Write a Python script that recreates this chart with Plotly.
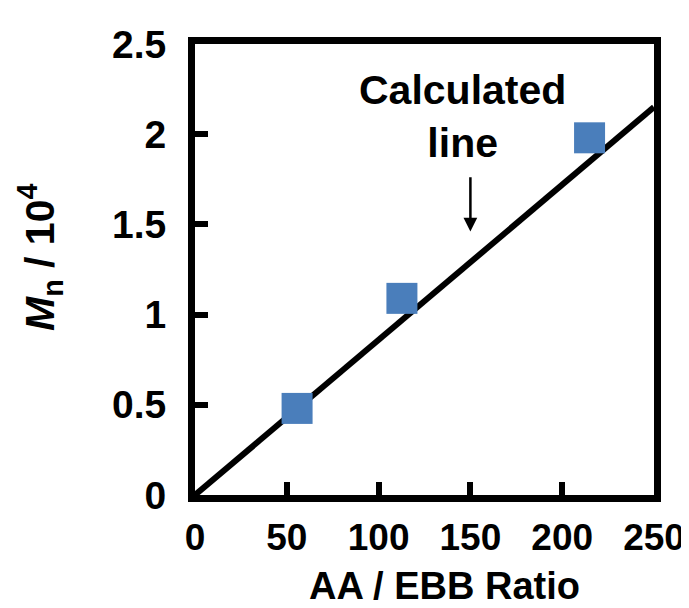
import plotly.graph_objects as go

# Data
ratio = [55.6, 112.7, 214.9]
mn = [0.48, 1.09, 1.98]
calc_x = [0, 250]
calc_y = [0, 2.15]
x_ticks = [0, 50, 100, 150, 200, 250]
y_ticks = [0, 0.5, 1, 1.5, 2, 2.5]
y_ticklabels = ["0", "0.5", "1", "1.5", "2", "2.5"]

FONT = "Liberation Sans, Arial, sans-serif"

L, R, T, B = 187, 40, 36, 121
W, H = 689, 608
PW, PH = W - L - R, H - T - B


def px(xp):
    return (xp - L) / PW


def py(yp):
    return (H - B - yp) / PH


fig = go.Figure()
fig.add_trace(go.Scatter(x=calc_x, y=calc_y, mode="lines",
                         line=dict(color="black", width=6), showlegend=False,
                         hoverinfo="skip"))
fig.add_trace(go.Scatter(x=ratio, y=mn, mode="markers",
                         marker=dict(symbol="square", size=31, color="#4A7EBB",
                                     line=dict(width=0)),
                         showlegend=False))

fig.add_annotation(x=150, y=1.46, ax=150, ay=1.77, xref="x", yref="y",
                   axref="x", ayref="y", text="", showarrow=True,
                   arrowhead=2, arrowsize=1.1, arrowwidth=2.5, arrowcolor="black")
fig.add_annotation(x=px(456), y=py(108), xref="paper", yref="paper",
                   text="<b>Calculated<br>line</b>", showarrow=False,
                   xanchor="center", yanchor="middle",
                   font=dict(family=FONT, size=41, color="black"))

fig.add_annotation(x=px(438), y=py(578), xref="paper", yref="paper",
                   text="<b>AA / EBB Ratio</b>", showarrow=False,
                   xanchor="center", yanchor="middle",
                   font=dict(family=FONT, size=38, color="black"))

fig.add_annotation(text="<b><i>M</i><sub>n</sub> / 10<sup>4</sup></b>", textangle=-90,
                   x=px(31), y=py(250), xref="paper", yref="paper", showarrow=False,
                   xanchor="center", yanchor="middle",
                   font=dict(family=FONT, size=41, color="black"))

axis_common = dict(showgrid=False, zeroline=False, showline=True, linecolor="black",
                   linewidth=7, mirror=True, ticks="inside", ticklen=13, tickwidth=6,
                   tickcolor="black")

fig.update_xaxes(range=[0, 250], tickvals=x_ticks, ticktext=[str(v) for v in x_ticks],
                 ticklabelstandoff=4,
                 tickfont=dict(family=FONT, size=37, color="black", weight="bold"),
                 **axis_common)
fig.update_yaxes(range=[0, 2.5], tickvals=y_ticks, ticktext=y_ticklabels,
                 ticklabelstandoff=14,
                 tickfont=dict(family=FONT, size=39, color="black", weight="bold"),
                 **axis_common)

fig.update_layout(width=W, height=H, autosize=False,
                  margin=dict(l=L, r=R, t=T, b=B),
                  plot_bgcolor="white", paper_bgcolor="white")

fig.write_html("out.html")
